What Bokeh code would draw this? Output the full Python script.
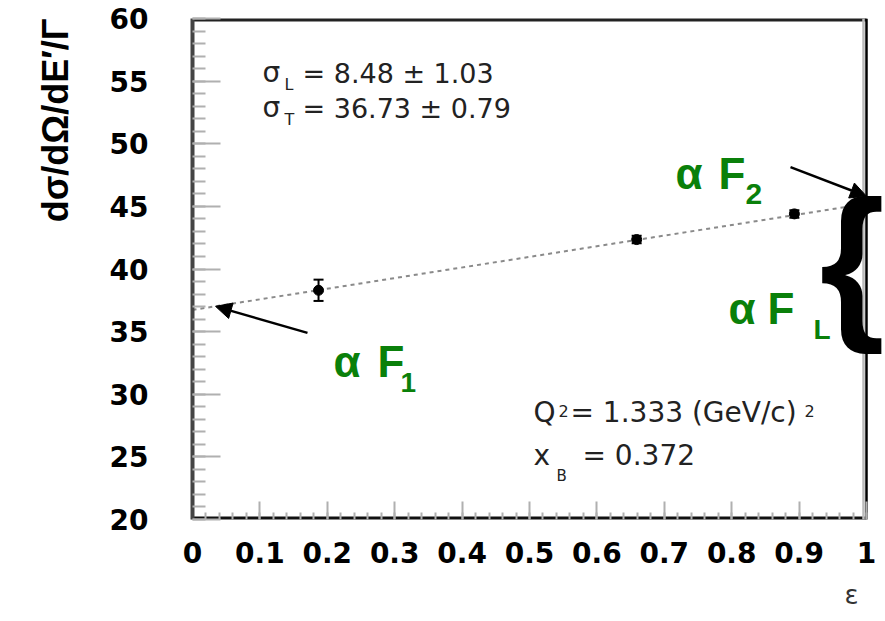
import math

from bokeh.embed import file_html
from bokeh.models import (Arrow, ColumnDataSource, FixedTicker, Label, NormalHead,
                          Range1d, TeeHead, Title, Whisker)
from bokeh.plotting import figure
from bokeh.resources import INLINE

# Rosenbluth separation at fixed Q^2, x_Bj
eps = [0.187, 0.659, 0.893]          # virtual photon polarisation
xsec = [38.3, 42.35, 44.4]           # reduced cross section
xsec_err = [0.85, 0.3, 0.3]

sigma_L, sigma_L_err = 8.48, 1.03
sigma_T, sigma_T_err = 36.73, 0.79
q2 = 1.333
x_bj = 0.372

x_ticks = [0, 0.1, 0.2, 0.3, 0.4, 0.5, 0.6, 0.7, 0.8, 0.9, 1]
x_tick_labels = ["0", "0.1", "0.2", "0.3", "0.4", "0.5", "0.6", "0.7", "0.8", "0.9", "1"]
y_ticks = [20, 25, 30, 35, 40, 45, 50, 55, 60]

# canvas geometry (pixels); the plotted box spans FL..FR, FT..FB, while the
# drawing area runs on to the right edge so the brace can overhang the box
W, H = 885, 621
FL, FR, FT, FB = 192, 866, 18, 520
X0, X1, Y0, Y1 = 0.0, 1.0, 20.0, 60.0
X_END = X1 + (W - FR) / (FR - FL) * (X1 - X0)
BASE_SHIFT = 0.38   # baseline correction, in em


def dx(px):
    return X0 + (px - FL) / (FR - FL) * (X1 - X0)


def dy(py):
    return Y1 - (py - FT) / (FB - FT) * (Y1 - Y0)


def fit(e):
    return sigma_T + e * sigma_L


p = figure(width=W, height=H, x_range=Range1d(X0, X_END), y_range=Range1d(Y0, Y1),
           output_backend="svg", toolbar_location=None,
           min_border_left=FL, min_border_right=0,
           min_border_top=FT, min_border_bottom=H - FB)
p.xgrid.visible = False
p.ygrid.visible = False
p.outline_line_color = None
p.background_fill_color = "white"
p.border_fill_color = "white"

# axes
p.xaxis.ticker = FixedTicker(ticks=x_ticks,
                             minor_ticks=[round(i * 0.02, 2) for i in range(51)])
p.xaxis.major_label_overrides = dict(zip(x_ticks, x_tick_labels))
p.yaxis.ticker = FixedTicker(ticks=y_ticks, minor_ticks=list(range(20, 61)))

for ax in (p.xaxis, p.yaxis):
    ax.major_tick_out = 0
    ax.minor_tick_out = 0
    ax.major_tick_line_color = "#b0b0b0"
    ax.minor_tick_line_color = "#b0b0b0"
    ax.major_tick_line_width = 2
    ax.minor_tick_line_width = 2
    ax.major_label_text_font = "DejaVu Sans"
    ax.major_label_text_font_style = "bold"
    ax.major_label_text_font_size = "28px"
    ax.major_label_text_color = "black"

p.xaxis.major_tick_in = 18
p.xaxis.minor_tick_in = 7
p.xaxis.axis_line_color = None
p.xaxis.major_label_standoff = 22

p.yaxis.major_tick_in = 28
p.yaxis.minor_tick_in = 13
p.yaxis.axis_line_color = "#444444"
p.yaxis.axis_line_width = 4
p.yaxis.major_label_standoff = 44

# box edges: bottom, top and right (the left one is the y axis line)
p.line(x=[X0, X1], y=[Y0, Y0], line_color="#111111", line_width=6)
p.line(x=[X0, X1], y=[Y1, Y1], line_color="#222222", line_width=6)
p.line(x=[dx(FR - 3)] * 2, y=[Y0, Y1], line_color="#bbbbbb", line_width=2.5)
p.line(x=[X1, X1], y=[Y0, Y1], line_color="black", line_width=2.5)

# axis titles
p.add_layout(Title(text="dσ/dΩ/dE′/Γ", align="right", text_font="Liberation Sans",
                   text_font_style="bold", text_font_size="36px",
                   text_color="black", standoff=62), "left")
p.add_layout(Title(text="ε", align="right", text_font="DejaVu Sans",
                   text_font_style="normal", text_font_size="26px",
                   text_color="#333333", offset=27, standoff=24), "below")

# linear fit sigma_T + eps * sigma_L
p.line(x=[X0, X1], y=[fit(X0), fit(X1)], line_color="#8a8a8a", line_width=2,
       line_dash="4 4")

# data points with error bars
src = ColumnDataSource(dict(
    x=eps, y=xsec,
    lower=[v - e for v, e in zip(xsec, xsec_err)],
    upper=[v + e for v, e in zip(xsec, xsec_err)],
))
p.add_layout(Whisker(source=src, base="x", lower="lower", upper="upper",
                     dimension="height", line_color="black", line_width=2,
                     lower_head=TeeHead(size=10, line_color="black", line_width=2),
                     upper_head=TeeHead(size=10, line_color="black", line_width=2)))
p.scatter("x", "y", source=src, size=10, color="black")


def add_text(text, px, py, size, color="#222222", font="DejaVu Sans", style="normal"):
    """Text placed by the left end of its baseline, in canvas pixels."""
    py = py - BASE_SHIFT * size
    p.add_layout(Label(x=dx(px), y=dy(py), text=text, text_font=font,
                       text_font_style=style, text_font_size=f"{size}px",
                       text_color=color, text_align="left",
                       text_baseline="alphabetic"))


# fit results
add_text("σ", 262, 83, 28)
add_text("L", 284, 90, 16)
add_text(f"= {sigma_L:.2f} ± {sigma_L_err:.2f}", 302, 83, 27)
add_text("σ", 262, 118, 28)
add_text("T", 284, 125, 16)
add_text(f"= {sigma_T:.2f} ± {sigma_T_err:.2f}", 302, 118, 27)

# kinematics
add_text("Q", 533, 423, 28)
add_text("2", 558, 417, 16)
add_text(f"= {q2:.3f} (GeV/c)", 570, 423, 28)
add_text("2", 804, 417, 16)
add_text("x", 533, 467, 28)
add_text("B", 556, 482, 15)
add_text(f"= {x_bj:.3f}", 582, 467, 28)

# structure-function annotations
GREEN = "#0a800a"
add_text("α", 333, 378, 44, GREEN, "Liberation Sans", "bold")
add_text("F", 377, 378, 44, GREEN, "Liberation Sans", "bold")
add_text("1", 400, 393, 28, GREEN, "Liberation Sans", "bold")

add_text("α", 675, 190, 44, GREEN, "Liberation Sans", "bold")
add_text("F", 718, 190, 44, GREEN, "Liberation Sans", "bold")
add_text("2", 745, 205, 30, GREEN, "Liberation Sans", "bold")

add_text("α", 728, 325, 44, GREEN, "Liberation Sans", "bold")
add_text("F", 767, 325, 44, GREEN, "Liberation Sans", "bold")
add_text("L", 813, 340, 28, GREEN, "Liberation Sans", "bold")

# brace spanning the longitudinal part at eps = 1
add_text("{", 819, 325, 168, "black", "Liberation Sans", "bold")

# arrows to the fit line ends
tip1 = dx(215)
p.add_layout(Arrow(end=NormalHead(size=16, fill_color="black", line_color="black"),
                   x_start=dx(307), y_start=dy(333), x_end=tip1, y_end=fit(tip1),
                   line_color="black", line_width=2.5))
p.add_layout(Arrow(end=NormalHead(size=16, fill_color="black", line_color="black"),
                   x_start=dx(790), y_start=dy(167), x_end=X1, y_end=fit(X1) + 0.6,
                   line_color="black", line_width=2.5))

open("out.html", "w").write(file_html(p, INLINE))
